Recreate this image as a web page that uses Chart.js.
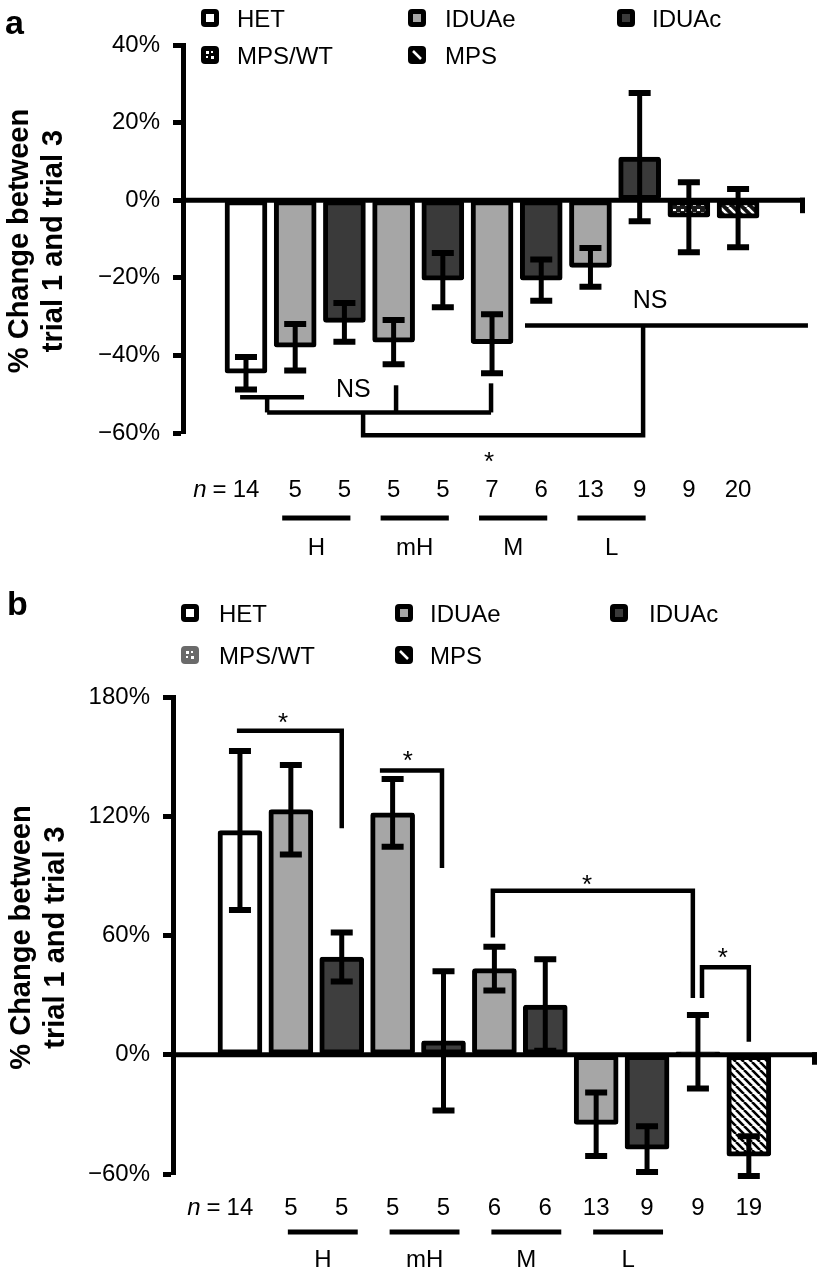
<!DOCTYPE html>
<html><head><meta charset="utf-8">
<script src="https://cdn.jsdelivr.net/npm/chart.js@4.4.1/dist/chart.umd.min.js"></script>
<style>
html,body{margin:0;padding:0;background:#fff;}
#wrap{position:relative;width:821px;height:1271px;overflow:hidden;}
#ca{position:absolute;left:0;top:0;}
#cb{position:absolute;left:0;top:590px;}
</style></head><body>
<div id="wrap"><canvas id="ca" width="821" height="590"></canvas><canvas id="cb" width="821" height="681"></canvas></div>
<script>
// ---------- DATA ----------
const seriesNames = ['HET', 'IDUAe', 'IDUAc', 'MPS/WT', 'MPS'];
const barSeries = [0, 1, 2, 1, 2, 1, 2, 1, 2, 3, 4];
const doseLabels = ['H', 'mH', 'M', 'L'];
const dosePairs = [[1, 2], [3, 4], [5, 6], [7, 8]];

const valuesA = [-44.6, -37.9, -31.5, -36.6, -20.6, -37.0, -20.6, -17.3, 11.1, -4.4, -4.6];
const errorsA = [4.2, 6.0, 5.0, 5.7, 7.0, 7.6, 5.3, 5.0, 16.5, 9.0, 7.5];
const nA = [14, 5, 5, 5, 5, 7, 6, 13, 9, 9, 20];
const yRangeA = [-60, 40, 20];

const valuesB = [112.8, 123.3, 49.2, 121.7, 7.0, 43.3, 25.0, -35.0, -47.5, 1.5, -51.0];
const errorsB = [40.0, 22.5, 12.3, 17.0, 35.0, 11.0, 23.0, 16.0, 11.5, 18.5, 10.0];
const nB = [14, 5, 5, 5, 5, 6, 6, 13, 9, 9, 19];
const yRangeB = [-60, 180, 60];

// significance annotations in data units [barIndex, value]
const bracketsA = [
  [[-0.12, -50.8], [1.18, -50.8]],
  [[0.43, -50.8], [0.43, -54.7]],
  [[0.43, -54.7], [4.98, -54.7]],
  [[3.05, -47.7], [3.05, -54.7]],
  [[4.98, -47.2], [4.98, -54.7]],
  [[2.38, -54.7], [2.38, -60.6], [8.07, -60.6], [8.07, -32.3]],
  [[5.67, -32.3], [11.42, -32.3]]
];
const marksA = [['NS', 2.18, -49.0], ['NS', 8.21, -26.1], ['*', 4.94, -66.3]];

const bracketsB = [
  [[-0.06, 163], [2.0, 163], [2.0, 114]],
  [[2.75, 143], [3.97, 143], [3.97, 94]],
  [[4.97, 59], [4.97, 82.5], [8.9, 82.5], [8.9, 28.5]],
  [[9.08, 28.5], [9.08, 44], [10.0, 44], [10.0, 6.5]]
];
const marksB = [['*', 0.845, 169], ['*', 3.3, 150], ['*', 6.82, 87.5], ['*', 9.49, 51]];

const yTitle = ['% Change between', 'trial 1 and trial 3'];

// ---------- STYLE ----------
const FONT = '"Liberation Sans", Arial, Helvetica, sans-serif';

function makePattern(w, h, bg, fg, kind, lw) {
  const c = document.createElement('canvas');
  c.width = w; c.height = h;
  const g = c.getContext('2d');
  g.fillStyle = bg; g.fillRect(0, 0, w, h);
  if (kind === 'hatch') {
    g.strokeStyle = fg; g.lineWidth = lw;
    g.beginPath();
    for (const k of [-w, 0, w]) { g.moveTo(k, 0); g.lineTo(k + w, h); }
    g.stroke();
  } else {
    g.fillStyle = fg;
    g.fillRect(1, 1, 3, 2);
    g.fillRect(5, 4, 3, 2);
  }
  return g.createPattern(c, 'repeat');
}

const ctxA = document.getElementById('ca').getContext('2d');
const fillsA = ['#ffffff', '#a6a6a6', '#3a3a3a',
  makePattern(8, 8, '#1a1a1a', '#ffffff', 'dots'),
  makePattern(9, 9, '#111111', '#ffffff', 'hatch', 2.5)];
const fillsB = ['#ffffff', '#a6a6a6', '#3e3e3e', '#9a9a9a',
  makePattern(8, 8, '#ffffff', '#000000', 'hatch', 2.6)];

function buildDatasets(values, fills, thickness) {
  return seriesNames.map((name, s) => ({
    label: name,
    data: values.map((v, i) => (barSeries[i] === s ? { x: i, y: v } : null)).filter(p => p),
    backgroundColor: fills[s],
    borderColor: '#000',
    borderWidth: 5,
    borderSkipped: false,
    borderRadius: 3,
    barThickness: thickness,
    grouped: false
  }));
}

function drawMarker(ctx, x, yc, s, panel) {
  const size = 18, r = 4;
  const y = yc - size / 2;
  ctx.save();
  ctx.beginPath();
  ctx.roundRect(x, y, size, size, r);
  ctx.fillStyle = (panel === 'b' && s === 3) ? '#6a6a6a' : '#000';
  ctx.fill();
  const ix = x + 5, iy = y + 5, iw = size - 10;
  if (s === 0) { ctx.fillStyle = '#fff'; ctx.fillRect(ix, iy, iw, iw); }
  else if (s === 1) { ctx.fillStyle = '#a6a6a6'; ctx.fillRect(ix, iy, iw, iw); }
  else if (s === 2) { ctx.fillStyle = '#3a3a3a'; ctx.fillRect(ix, iy, iw, iw); }
  else if (s === 3) {
    ctx.fillStyle = '#fff';
    ctx.fillRect(ix, iy, 3, 3); ctx.fillRect(ix + 5, iy + 5, 3, 3);
    ctx.fillRect(ix + 5, iy, 2, 2); ctx.fillRect(ix, iy + 5, 2, 2);
  } else if (s === 4) {
    ctx.strokeStyle = '#fff'; ctx.lineWidth = 2.5;
    ctx.beginPath(); ctx.moveTo(ix, iy); ctx.lineTo(ix + iw, iy + iw); ctx.stroke();
  }
  ctx.restore();
}

function decor(cfg) {
  return {
    id: 'decor',
    afterDatasetsDraw(chart) {
      const ctx = chart.ctx, xs = chart.scales.x, ys = chart.scales.y, ca = chart.chartArea;
      ctx.save();
      ctx.strokeStyle = '#000'; ctx.lineCap = 'butt'; ctx.lineJoin = 'miter';
      const y0 = ys.getPixelForValue(0);
      ctx.lineWidth = 5;
      ctx.beginPath(); ctx.moveTo(ca.left, y0); ctx.lineTo(ca.right, y0); ctx.stroke();
      ctx.beginPath(); ctx.moveTo(ca.right - 2.5, y0 - 2.5); ctx.lineTo(ca.right - 2.5, y0 + cfg.endTick); ctx.stroke();
      cfg.values.forEach((v, i) => {
        const x = xs.getPixelForValue(i);
        const yt = ys.getPixelForValue(v + cfg.errors[i]);
        const yb = ys.getPixelForValue(v - cfg.errors[i]);
        ctx.lineWidth = 5;
        ctx.beginPath(); ctx.moveTo(x, yt); ctx.lineTo(x, yb); ctx.stroke();
        ctx.lineWidth = 6;
        ctx.beginPath();
        ctx.moveTo(x - 11, yt); ctx.lineTo(x + 11, yt);
        ctx.moveTo(x - 11, yb); ctx.lineTo(x + 11, yb);
        ctx.stroke();
      });
      ctx.lineWidth = 4.5;
      cfg.brackets.forEach(pts => {
        ctx.beginPath();
        pts.forEach((p, k) => {
          const px = xs.getPixelForValue(p[0]), py = ys.getPixelForValue(p[1]);
          if (k === 0) ctx.moveTo(px, py); else ctx.lineTo(px, py);
        });
        ctx.stroke();
      });
      ctx.fillStyle = '#000';
      ctx.textAlign = 'center'; ctx.textBaseline = 'middle';
      cfg.marks.forEach(m => {
        const px = xs.getPixelForValue(m[1]), py = ys.getPixelForValue(m[2]);
        if (m[0] === '*') { ctx.font = '26px ' + FONT; ctx.fillText('*', px, py + 5); }
        else { ctx.font = '25px ' + FONT; ctx.fillText(m[0], px, py); }
      });
      ctx.restore();
    },
    afterDraw(chart) {
      const ctx = chart.ctx, xs = chart.scales.x, ca = chart.chartArea;
      ctx.save();
      ctx.fillStyle = '#000'; ctx.strokeStyle = '#000';
      // panel letter
      ctx.font = 'bold 34px ' + FONT;
      ctx.textAlign = 'left'; ctx.textBaseline = 'alphabetic';
      ctx.fillText(cfg.letter, cfg.letterPos[0], cfg.letterPos[1]);
      // y title
      ctx.font = 'bold 29px ' + FONT;
      ctx.textAlign = 'center'; ctx.textBaseline = 'middle';
      const yc = (ca.top + ca.bottom) / 2 + 2;
      yTitle.forEach((t, k) => {
        ctx.save();
        ctx.translate(cfg.titleX[k], yc);
        ctx.rotate(-Math.PI / 2);
        ctx.fillText(t, 0, 0);
        ctx.restore();
      });
      // legend
      ctx.font = '24px ' + FONT;
      ctx.textAlign = 'left'; ctx.textBaseline = 'middle';
      seriesNames.forEach((name, s) => {
        const col = s % 3, row = Math.floor(s / 3);
        drawMarker(ctx, cfg.legMarkX[col], cfg.legY[row] - 1, s, cfg.letter);
        ctx.fillText(name, cfg.legTextX[col], cfg.legY[row] + 1);
      });
      // n row
      ctx.font = '24px ' + FONT;
      ctx.textAlign = 'center';
      cfg.n.forEach((n, i) => ctx.fillText(String(n), xs.getPixelForValue(i), cfg.nY));
      const x0 = xs.getPixelForValue(0) - ctx.measureText(String(cfg.n[0])).width / 2;
      ctx.textAlign = 'right';
      ctx.fillText('=', x0 - 6, cfg.nY);
      const eqW = ctx.measureText('=').width;
      ctx.font = 'italic 24px ' + FONT;
      ctx.fillText('n', x0 - 6 - eqW - 6, cfg.nY);
      // dose group lines and labels
      ctx.font = '24px ' + FONT;
      ctx.textAlign = 'center';
      ctx.lineWidth = 5;
      dosePairs.forEach((pr, k) => {
        const a = xs.getPixelForValue(pr[0]) - cfg.doseL, b = xs.getPixelForValue(pr[1]) + cfg.doseR;
        ctx.beginPath(); ctx.moveTo(a, cfg.lineY); ctx.lineTo(b, cfg.lineY); ctx.stroke();
        ctx.fillText(doseLabels[k], (a + b) / 2, cfg.labelY);
      });
      ctx.restore();
    }
  };
}

function makeChart(canvas, values, errors, fills, thick, yr, xr, widthY, pad, cfg) {
  return new Chart(canvas, {
    type: 'bar',
    data: { datasets: buildDatasets(values, fills, thick) },
    options: {
      responsive: false, animation: false, devicePixelRatio: 1,
      layout: { padding: pad },
      plugins: { legend: { display: false }, tooltip: { enabled: false } },
      scales: {
        x: { type: 'linear', min: xr[0], max: xr[1], offset: false, display: false },
        y: {
          min: yr[0], max: yr[1],
          ticks: {
            stepSize: yr[2], color: '#000', padding: 13,
            font: { family: FONT, size: 24 },
            callback: v => (v < 0 ? '\u2212' : '') + Math.abs(v) + '%'
          },
          grid: { drawOnChartArea: false, drawTicks: true, tickLength: 10, tickWidth: 5, tickColor: '#000' },
          border: { display: true, color: '#000', width: 5 },
          afterFit: s => { s.width = widthY; }
        }
      }
    },
    plugins: [decor(Object.assign({ values, errors }, cfg))]
  });
}

makeChart('ca', valuesA, errorsA, fillsA, 42, yRangeA, [-1.28, 11.36], 183,
  { top: 45, bottom: 157, left: 0, right: 16 },
  { brackets: bracketsA, marks: marksA, n: nA, endTick: 13, letter: 'a', letterPos: [5, 34],
    titleX: [20, 54], legMarkX: [201, 408, 617], legTextX: [237, 445, 652], legY: [19, 56],
    nY: 490, lineY: 518, labelY: 548, doseL: 13, doseR: 6 });

makeChart('cb', valuesB, errorsB, fillsB, 44, yRangeB, [-1.316, 11.34], 173,
  { top: 107, bottom: 97, left: 0, right: 4 },
  { brackets: bracketsB, marks: marksB, n: nB, endTick: 10, letter: 'b', letterPos: [7, 25],
    titleX: [22, 56], legMarkX: [181, 395, 610], legTextX: [219, 430, 649], legY: [24, 66],
    nY: 618, lineY: 642, labelY: 670, doseL: 3, doseR: 16 });
</script>
</body></html>
